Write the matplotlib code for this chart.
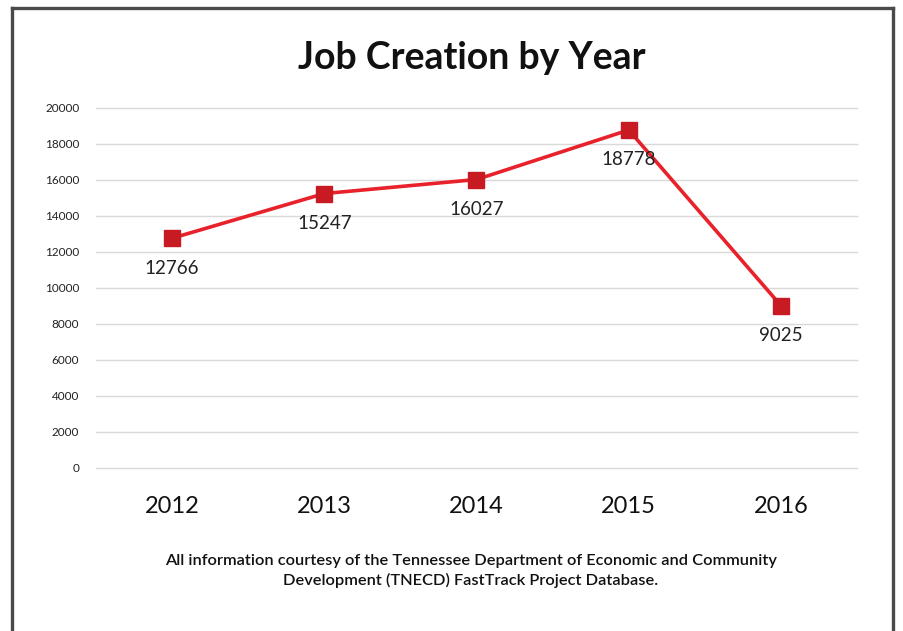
import matplotlib
matplotlib.use("Agg")
import matplotlib.pyplot as plt
from matplotlib.lines import Line2D

years = ["2012", "2013", "2014", "2015", "2016"]
jobs = [12766, 15247, 16027, 18778, 9025]
yticks = [0, 2000, 4000, 6000, 8000, 10000, 12000, 14000, 16000, 18000, 20000]

plt.rcParams['font.family'] = ['Lato', 'DejaVu Sans']

fig = plt.figure(figsize=(9.04, 6.31), dpi=100)
ax = fig.add_axes([96/904, 1-468/631, 761/904, 360/631])

x = list(range(len(years)))
ax.plot(x, jobs, color="#e8212b", linewidth=2.6, marker="s", markersize=11,
        markerfacecolor="#c81a22", markeredgecolor="#c81a22", zorder=3)
for xi, v in zip(x, jobs):
    ax.annotate(str(v), (xi, v), xytext=(0, -30), textcoords="offset pixels",
                ha="center", va="center", fontsize=13.5, color="#222222")

ax.set_xlim(-0.5, len(years) - 0.5)
ax.set_ylim(0, 20000)
ax.set_yticks(yticks)
ax.set_yticklabels([str(t) for t in yticks], fontsize=8.5, color="#222222")
ax.set_xticks(x)
ax.set_xticklabels(years, fontsize=17, color="#111111")
ax.tick_params(axis="both", length=0)
ax.tick_params(axis="y", pad=12)
ax.tick_params(axis="x", pad=20)
ax.grid(axis="y", color="#d9d9d9", linewidth=1)
for gl in ax.get_ygridlines():
    gl.set_clip_on(False)
ax.set_axisbelow(True)
for s in ax.spines.values():
    s.set_visible(False)

fig.text(472/904, 1-58/631, "Job Creation by Year", ha="center", va="center",
         fontsize=27, fontweight="bold", color="#111111")
fig.text(471/904, 1-571/631,
         "All information courtesy of the Tennessee Department of Economic and Community\n"
         "Development (TNECD) FastTrack Project Database.",
         ha="center", va="center", fontsize=11.8, fontweight="semibold",
         color="#111111", linespacing=1.42)

# frame (left, top, right)
bc = "#4a4a4a"
fig.add_artist(Line2D([12.5/904, 12.5/904], [0, 1-7.5/631], color=bc, linewidth=2.4, transform=fig.transFigure))
fig.add_artist(Line2D([12.5/904, 893/904], [1-7.5/631, 1-7.5/631], color=bc, linewidth=2.4, transform=fig.transFigure))
fig.add_artist(Line2D([893/904, 893/904], [0, 1-7.5/631], color=bc, linewidth=2.4, transform=fig.transFigure))

fig.savefig("out.png", dpi=100)
